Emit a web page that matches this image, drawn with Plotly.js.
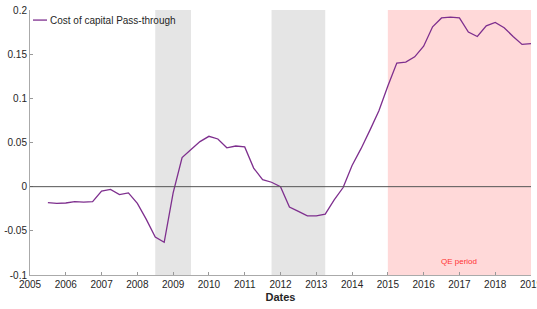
<!DOCTYPE html>
<html><head><meta charset="utf-8">
<script src="https://cdn.plot.ly/plotly-3.0.1.min.js"></script>
<style>html,body{margin:0;padding:0;background:#fff;}#chart{width:537px;height:309px;}</style>
</head><body><div id="chart"></div>
<script>
const dates = [2005.5,2005.75,2006.0,2006.25,2006.5,2006.75,2007.0,2007.25,2007.5,2007.75,
  2008.0,2008.25,2008.5,2008.75,2009.0,2009.25,2009.5,2009.75,2010.0,2010.25,2010.5,2010.75,
  2011.0,2011.25,2011.5,2011.75,2012.0,2012.25,2012.5,2012.75,2013.0,2013.25,2013.5,2013.75,
  2014.0,2014.25,2014.5,2014.75,2015.0,2015.25,2015.5,2015.75,2016.0,2016.25,2016.5,2016.75,
  2017.0,2017.25,2017.5,2017.75,2018.0,2018.25,2018.5,2018.75,2019.0];
const passThrough = [-0.018,-0.019,-0.0185,-0.017,-0.0175,-0.017,-0.005,-0.003,-0.009,-0.007,
  -0.019,-0.037,-0.057,-0.063,-0.007,0.033,0.042,0.051,0.057,0.054,0.044,0.046,
  0.045,0.021,0.008,0.005,0.0,-0.023,-0.028,-0.033,-0.033,-0.031,-0.015,-0.001,
  0.024,0.043,0.064,0.086,0.114,0.140,0.141,0.147,0.159,0.181,0.191,0.192,
  0.191,0.175,0.170,0.182,0.186,0.180,0.170,0.161,0.162];
const seriesName = 'Cost of capital Pass-through';
const recessionStart = [2008.5, 2011.75];
const recessionEnd = [2009.5, 2013.25];
const qeStart = 2015, qeEnd = 2019;
const yTickVals = [-0.1,-0.05,0,0.05,0.1,0.15,0.2];
const yTickText = ['-0.1','-0.05','0','0.05','0.1','0.15','0.2'];
const xTickVals = [2005,2006,2007,2008,2009,2010,2011,2012,2013,2014,2015,2016,2017,2018,2019];
const xTickText = xTickVals.map(String);
const lineColor = '#7e2f8e';

const shapes = [];
for (let i = 0; i < recessionStart.length; i++) {
  shapes.push({type:'rect', xref:'x', yref:'paper', x0:recessionStart[i], x1:recessionEnd[i], y0:0, y1:1,
    fillcolor:'#e5e5e5', line:{width:0}, layer:'below'});
}
shapes.push({type:'rect', xref:'x', yref:'paper', x0:qeStart, x1:qeEnd, y0:0, y1:1,
  fillcolor:'#ffd9d9', line:{width:0}, layer:'below'});
shapes.push({type:'line', xref:'paper', yref:'y', x0:0, x1:1, y0:0, y1:0,
  line:{color:'#555555', width:1}, layer:'above'});
// legend key
shapes.push({type:'line', xref:'paper', yref:'paper', x0:0.006, x1:0.034, y0:0.962, y1:0.962,
  line:{color:lineColor, width:1.3}});

const trace = {x:dates, y:passThrough, type:'scatter', mode:'lines', name:seriesName,
  line:{color:lineColor, width:1.3}};

const layout = {
  width:537, height:309,
  margin:{l:30, r:6, t:10, b:34},
  paper_bgcolor:'#fff', plot_bgcolor:'rgba(0,0,0,0)',
  font:{family:'Liberation Sans, Arial, sans-serif', size:10, color:'#262626'},
  showlegend:false,
  xaxis:{range:[2005,2019.0001], tickvals:xTickVals, ticktext:xTickText, ticks:'inside', ticklen:3,
    tickcolor:'#999', showline:true, linecolor:'#aaa', linewidth:1, showgrid:false, zeroline:false,
    ticklabeloverflow:'allow',
    title:{text:'Dates', font:{size:11, color:'#262626', weight:'bold'}, standoff:4},
    tickfont:{size:10, color:'#262626'}},
  yaxis:{range:[-0.1,0.2], tickvals:yTickVals, ticktext:yTickText, ticks:'inside', ticklen:3,
    tickcolor:'#999', showline:true, linecolor:'#aaa', linewidth:1, showgrid:false, zeroline:false,
    tickfont:{size:10, color:'#262626'}},
  shapes:shapes,
  annotations:[
    {x:2017, y:-0.0845, xref:'x', yref:'y', text:'QE period', showarrow:false,
      font:{size:8, color:'#ff3333'}},
    {x:0.036, y:0.962, xref:'paper', yref:'paper', xanchor:'left', yanchor:'middle', text:seriesName,
      showarrow:false, font:{size:10, color:'#262626'}}
  ]
};
Plotly.newPlot('chart', [trace], layout, {displayModeBar:false, staticPlot:true});
</script></body></html>
